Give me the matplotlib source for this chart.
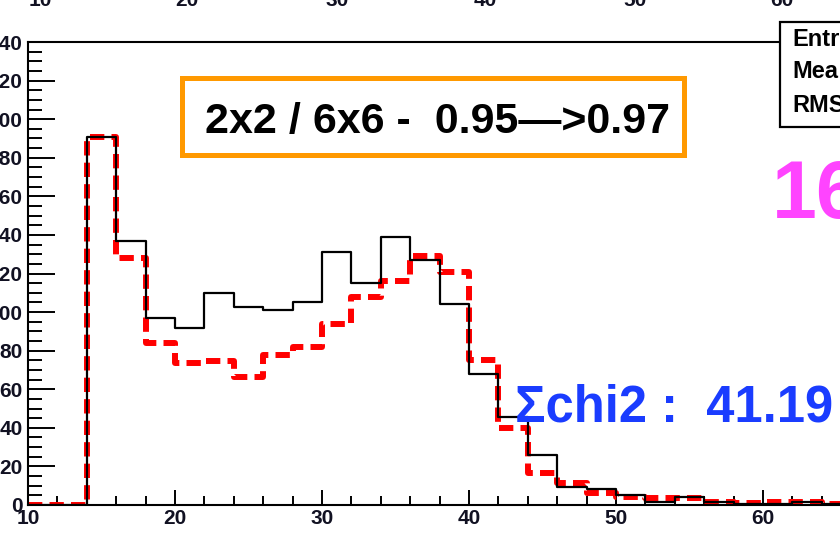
import numpy as np
import matplotlib.pyplot as plt
from matplotlib.patches import Rectangle
from matplotlib.ticker import MultipleLocator

plt.rcParams['font.family'] = ['Liberation Sans', 'DejaVu Sans']
plt.rcParams['font.weight'] = 'bold'

# bin edges (width 2) and contents
edges = np.arange(10, 72, 2)
black_counts = [0, 0, 191, 137, 97, 92, 110, 102.5, 101, 105,
                131, 115, 139, 127, 104, 68, 45.5, 26, 9.5, 8.5,
                5, 1.5, 4, 1.5, 0.7, 0.7, 1.5, 0.5, 0.3, 0.2]
red_counts = [0, 0, 191, 128, 84, 73.5, 74.8, 66.5, 78, 82,
              94, 108, 116, 129, 120.7, 75, 40, 16.6, 11.4, 6,
              4, 3.8, 3.6, 1.7, 1, 1.3, 1.3, 0.5, 0.3, 0.2]

box_text = "2x2 / 6x6 -  0.95\u2014>0.97"
chi2_text = "\u03a3chi2 :  41.19"
stat_rows = ["Entr", "Mea", "RMS"]
top_labels = ["10", "20", "30", "40", "50", "60"]

W, H = 840, 533
fig = plt.figure(figsize=(W / 100, H / 100), dpi=100)
ax = fig.add_axes([28 / W, 28 / H, 882 / W, 463 / H])

# red dashed histogram below, black solid on top
ax.step(edges, np.append(red_counts, red_counts[-1]), where='post',
        color='#ff0000', lw=4.3, linestyle=(0, (2.4, 1.2)),
        dash_capstyle='butt', zorder=2)
ax.step(edges, np.append(black_counts, black_counts[-1]), where='post',
        color='black', lw=1.6, zorder=3)

ax.set_xlim(10, 70)
ax.set_ylim(0, 240)
ax.xaxis.set_major_locator(MultipleLocator(10))
ax.xaxis.set_minor_locator(MultipleLocator(2))
ax.yaxis.set_major_locator(MultipleLocator(20))
ax.yaxis.set_minor_locator(MultipleLocator(5))
ax.tick_params(axis='both', which='both', direction='in', width=1.4,
               color='black', labelcolor='#111122')
ax.tick_params(axis='y', which='major', length=19.5, pad=4, labelsize=15)
ax.tick_params(axis='y', which='minor', length=10)
ax.tick_params(axis='x', which='major', length=11, pad=3, labelsize=15)
ax.tick_params(axis='x', which='minor', length=6.5)
for s in ax.spines.values():
    s.set_linewidth(1.5)

# labels of the panel above, cut off by the crop
for lab, px in zip(top_labels, [40, 187, 337, 485, 635, 782]):
    fig.text(px / W, (H - 6) / H, lab, ha='center', va='baseline',
             fontsize=15, color='#111122')

# orange annotation box
fig.patches.append(Rectangle((181.5 / W, (H - 154.5) / H), 502 / W, 77 / H,
                             transform=fig.transFigure, fill=False,
                             edgecolor='#ff9900', lw=3.6))
fig.text(437.5 / W, (H - 133) / H, box_text, ha='center', va='baseline',
         fontsize=31, color='black')

# stats box (cropped)
fig.patches.append(Rectangle((780 / W, (H - 127) / H), 120 / W, 105 / H,
                             transform=fig.transFigure, facecolor='white',
                             edgecolor='black', lw=1.6))
for lab, py in zip(stat_rows, [39, 72, 106]):
    fig.text(792 / W, (H - py) / H, lab, ha='left', va='center',
             fontsize=17, color='black')

fig.text(772 / W, (H - 218) / H, "16", ha='left', va='baseline',
         fontsize=58, color='#ff44ff')
fig.text(515 / W, (H - 422) / H, chi2_text, ha='left', va='baseline',
         fontsize=36.5, color='#1a3cff')

fig.savefig('out.png', dpi=100)
